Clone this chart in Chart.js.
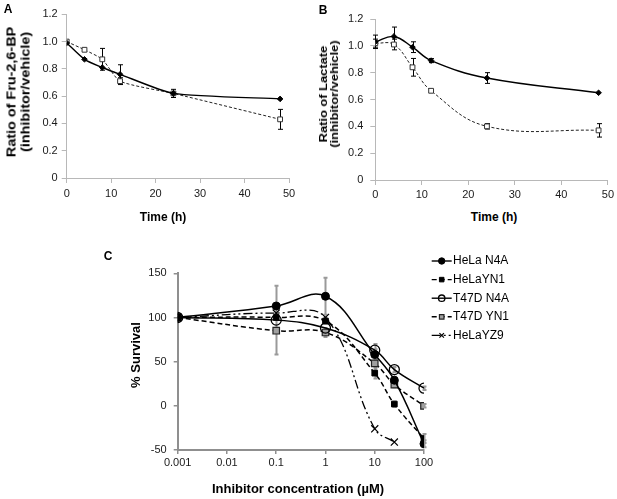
<!DOCTYPE html>
<html><head><meta charset="utf-8">
<script src="https://cdn.jsdelivr.net/npm/chart.js@4.4.0/dist/chart.umd.min.js"></script>
<style>
html,body{margin:0;padding:0;background:#fff;}
body{width:617px;height:499px;position:relative;overflow:hidden;font-family:"Liberation Sans",Arial,sans-serif;}
canvas{position:absolute;}
.t{position:absolute;white-space:nowrap;font-weight:bold;color:#000;transform:translate(-50%,-50%);text-align:center;}
</style></head>
<body>
<canvas id="cA" width="305" height="200" style="left:0;top:0"></canvas>
<canvas id="cB" width="312" height="200" style="left:305px;top:0"></canvas>
<canvas id="cC" width="517" height="259" style="left:100px;top:240px"></canvas>

<div class="t" style="left:8px;top:9px;font-size:12px">A</div>
<div class="t" style="left:323px;top:10px;font-size:12px">B</div>
<div class="t" style="left:108px;top:256px;font-size:12px">C</div>

<div class="t" style="left:19px;top:92px;font-size:12px;line-height:13.5px;transform:translate(-50%,-50%) rotate(-90deg) scaleX(1.2)">Ratio of Fru-2,6-BP<br>(inhibitor/vehicle)</div>
<div class="t" style="left:329px;top:94px;font-size:11px;line-height:11px;transform:translate(-50%,-50%) rotate(-90deg) scaleX(1.17)">Ratio of Lactate<br>(inhibitor/vehicle)</div>
<div class="t" style="left:163px;top:217px;font-size:12px">Time (h)</div>
<div class="t" style="left:494px;top:217px;font-size:12px">Time (h)</div>
<div class="t" style="left:135px;top:355px;font-size:13px;transform:translate(-50%,-50%) rotate(-90deg)">% Survival</div>
<div class="t" style="left:298px;top:488px;font-size:13px">Inhibitor concentration (µM)</div>

<script>
// ---------- Panel A data ----------
const timeA = [0, 4, 8, 12, 24, 48];
const fruSolid = [0.99, 0.87, 0.81, 0.76, 0.62, 0.58];
const fruSolidErr = [0, 0, 0, 0.07, 0, 0];
const fruDashed = [1.0, 0.94, 0.87, 0.71, 0.62, 0.43];
const fruDashedErr = [0, 0, 0.08, 0.025, 0.03, 0.073];
const yTicksA = [0, 0.2, 0.4, 0.6, 0.8, 1, 1.2];
const xTicksAB = [0, 10, 20, 30, 40, 50];

// ---------- Panel B data ----------
const timeB = [0, 4, 8, 12, 24, 48];
const lacSolid = [1.03, 1.07, 0.99, 0.89, 0.76, 0.65];
const lacSolidErr = [0.05, 0.07, 0.04, 0.015, 0.04, 0];
const lacDashed = [1.02, 1.01, 0.84, 0.665, 0.40, 0.37];
const lacDashedErr = [0.03, 0.04, 0.066, 0, 0.02, 0.05];

// ---------- Panel C data ----------
const concC = [0.001, 0.1, 1, 10, 25, 100];
const concYZ9 = [0.001, 0.1, 1, 10, 25];
const seriesNames = ['HeLa N4A', 'HeLaYN1', 'T47D N4A', 'T47D YN1', 'HeLaYZ9'];
const helaN4A = [100, 113, 124, 58, 29, -43];
const helaN4AErr = [0, 0, 21, 6, 4, 4];
const helaYN1 = [100, 100, 96, 37, 2, -37];
const helaYN1Err = [0, 0, 3, 6, 3, 5];
const t47dN4A = [100, 97, 88, 63, 41, 20];
const t47dN4AErr = [0, 39, 0, 7, 3, 2];
const t47dYN1 = [100, 85, 83, 48, 24, 0];
const t47dYN1Err = [0, 0, 5, 8, 3, 2];
const helaYZ9 = [100, 105, 100, -26, -41];
const xTicksC = [0.001, 0.01, 0.1, 1, 10, 100];
const xTickLabelsC = ['0.001', '0.01', '0.1', '1', '10', '100'];
const yTicksC = [-50, 0, 50, 100, 150];

const FONT = '"Liberation Sans", Arial, sans-serif';
Chart.defaults.font.family = FONT;
Chart.defaults.color = '#1a1a1a';

function pts(xs, ys) { return xs.map((x, i) => ({x: x, y: ys[i]})); }

const errorBars = {
  id: 'errorBars',
  beforeDatasetsDraw(chart) {
    const ctx = chart.ctx, xs = chart.scales.x, ys = chart.scales.y;
    chart.data.datasets.forEach(ds => {
      if (!ds.errors) return;
      ctx.save();
      ctx.strokeStyle = ds.errorColor; ctx.lineWidth = ds.errorWidth; ctx.setLineDash([]);
      ds.data.forEach((p, i) => {
        const e = ds.errors[i]; if (!e) return;
        const px = Math.round(xs.getPixelForValue(p.x)) + 0.5;
        const top = ys.getPixelForValue(p.y + e), bot = ys.getPixelForValue(p.y - e);
        const c = ds.errorCap;
        ctx.beginPath();
        ctx.moveTo(px, top); ctx.lineTo(px, bot);
        if (c) { ctx.moveTo(px - c, top); ctx.lineTo(px + c, top); ctx.moveTo(px - c, bot); ctx.lineTo(px + c, bot); }
        ctx.stroke();
      });
      ctx.restore();
    });
  }
};

function fixedTicks(list) { return function(s) { s.ticks = list.map(v => ({value: v})); }; }

function abChart(id, times, solid, solidErr, dashed, dashedErr, geo) {
  return new Chart(document.getElementById(id), {
    type: 'line',
    data: { datasets: [
      { label: 'solid', data: pts(times, solid), errors: solidErr, errorColor: '#000', errorWidth: 1, errorCap: 2.5,
        borderColor: '#000', borderWidth: 1.4, tension: geo.tension,
        pointStyle: 'rectRot', pointRadius: 2.8, pointBackgroundColor: '#000', pointBorderColor: '#000', pointBorderWidth: 1 },
      { label: 'dashed', data: pts(times, dashed), errors: dashedErr, errorColor: '#000', errorWidth: 1, errorCap: 2.5,
        borderColor: '#222', borderWidth: 1, borderDash: [3, 2], tension: geo.tension,
        pointStyle: 'rect', pointRadius: 3.4, pointBackgroundColor: '#fff', pointBorderColor: '#333', pointBorderWidth: 1 }
    ]},
    options: {
      responsive: false, animation: false, devicePixelRatio: 1,
      layout: { padding: { left: 0, top: geo.top, right: geo.right, bottom: 0 } },
      plugins: { legend: { display: false }, tooltip: { enabled: false } },
      scales: {
        x: { type: 'linear', min: 0, max: 50, afterBuildTicks: fixedTicks(xTicksAB),
             ticks: { font: { size: 11 }, padding: geo.xpad, maxRotation: 0, autoSkip: false },
             grid: { display: true, drawOnChartArea: false, drawTicks: true, tickLength: 5, color: '#b8b8b8' },
             border: { display: true, color: '#b8b8b8', width: 1 },
             afterFit(s) { s.height = geo.xh; } },
        y: { type: 'linear', min: 0, max: 1.2, afterBuildTicks: fixedTicks(yTicksA),
             ticks: { font: { size: 11 }, padding: geo.ypad },
             grid: { display: true, drawOnChartArea: false, drawTicks: true, tickLength: 5, color: '#b8b8b8' },
             border: { display: true, color: '#b8b8b8', width: 1 },
             afterFit(s) { s.width = geo.yw; } }
      }
    },
    plugins: [errorBars]
  });
}

abChart('cA', timeA, fruSolid, fruSolidErr, fruDashed, fruDashedErr,
  { top: 14.3, right: 16, xh: 22, yw: 66.7, xpad: 4, ypad: 4, tension: 0.2 });
abChart('cB', timeB, lacSolid, lacSolidErr, lacDashed, lacDashedErr,
  { top: 19, right: 8, xh: 20, yw: 70.3, xpad: 3, ypad: 7, tension: 0.4 });

const legendC = {
  id: 'legendC',
  afterDraw(chart) {
    const ctx = chart.ctx;
    chart.data.datasets.forEach((ds, i) => {
      const y = 21 + i * 18.6;
      ctx.save();
      ctx.strokeStyle = '#000'; ctx.lineWidth = 1.4; ctx.setLineDash(ds.borderDash || []);
      ctx.beginPath(); ctx.moveTo(331.7, y); ctx.lineTo(351.7, y); ctx.stroke();
      ctx.setLineDash([]);
      ctx.fillStyle = ds.pointBackgroundColor; ctx.strokeStyle = ds.pointBorderColor; ctx.lineWidth = ds.pointBorderWidth;
      Chart.helpers.drawPoint(ctx, { pointStyle: ds.pointStyle, radius: 3.2, rotation: 0, borderWidth: ds.pointBorderWidth }, 341.7, y);
      ctx.fillStyle = '#000'; ctx.font = '12px ' + FONT; ctx.textBaseline = 'middle'; ctx.textAlign = 'left';
      ctx.fillText(ds.label, 353, y);
      ctx.restore();
    });
  }
};

const errC = { errorColor: '#9a9a9a', errorWidth: 2, errorCap: 2 };
new Chart(document.getElementById('cC'), {
  type: 'line',
  data: { datasets: [
    Object.assign({ label: seriesNames[0], data: pts(concC, helaN4A), errors: helaN4AErr,
      borderColor: '#000', borderWidth: 1.5, tension: 0.4,
      pointStyle: 'circle', pointRadius: 4, pointBackgroundColor: '#000', pointBorderColor: '#000', pointBorderWidth: 1 }, errC),
    Object.assign({ label: seriesNames[1], data: pts(concC, helaYN1), errors: helaYN1Err,
      borderColor: '#000', borderWidth: 1.5, borderDash: [5, 3], tension: 0.4,
      pointStyle: 'rect', pointRadius: 4, pointBackgroundColor: '#000', pointBorderColor: '#000', pointBorderWidth: 1 }, errC),
    Object.assign({ label: seriesNames[2], data: pts(concC, t47dN4A), errors: t47dN4AErr,
      borderColor: '#000', borderWidth: 1.5, tension: 0.4,
      pointStyle: 'circle', pointRadius: 5, pointBackgroundColor: 'rgba(255,255,255,0)', pointBorderColor: '#000', pointBorderWidth: 1.3 }, errC),
    Object.assign({ label: seriesNames[3], data: pts(concC, t47dYN1), errors: t47dYN1Err,
      borderColor: '#000', borderWidth: 1.5, borderDash: [5, 3], tension: 0.4,
      pointStyle: 'rect', pointRadius: 4.6, pointBackgroundColor: '#a0a0a0', pointBorderColor: '#222', pointBorderWidth: 1.2 }, errC),
    { label: seriesNames[4], data: pts(concYZ9, helaYZ9),
      borderColor: '#000', borderWidth: 1.3, borderDash: [9, 3, 2, 3, 2, 3], tension: 0.4,
      pointStyle: 'crossRot', pointRadius: 5, pointBackgroundColor: '#000', pointBorderColor: '#000', pointBorderWidth: 1.2 }
  ]},
  options: {
    responsive: false, animation: false, devicePixelRatio: 1,
    layout: { padding: { left: 0, top: 33.3, right: 193, bottom: 0 } },
    plugins: { legend: { display: false }, tooltip: { enabled: false } },
    scales: {
      x: { type: 'logarithmic', min: 0.001, max: 100, afterBuildTicks: fixedTicks(xTicksC),
           ticks: { font: { size: 11 }, padding: 2, maxRotation: 0, autoSkip: false,
                    callback: (v, i) => xTickLabelsC[i] },
           grid: { display: true, drawOnChartArea: false, drawTicks: true, tickLength: 4, color: '#8f8f8f', lineWidth: 1.5 },
           border: { display: true, color: '#8f8f8f', width: 2 },
           afterFit(s) { s.height = 49; } },
      y: { type: 'linear', min: -50, max: 150, afterBuildTicks: fixedTicks(yTicksC),
           ticks: { font: { size: 11 }, padding: 7 },
           grid: { display: true, drawOnChartArea: false, drawTicks: true, tickLength: 4, color: '#8f8f8f', lineWidth: 1.5 },
           border: { display: true, color: '#8f8f8f', width: 2 },
           afterFit(s) { s.width = 77.7; } }
    }
  },
  plugins: [errorBars, legendC]
});
</script>
</body></html>
